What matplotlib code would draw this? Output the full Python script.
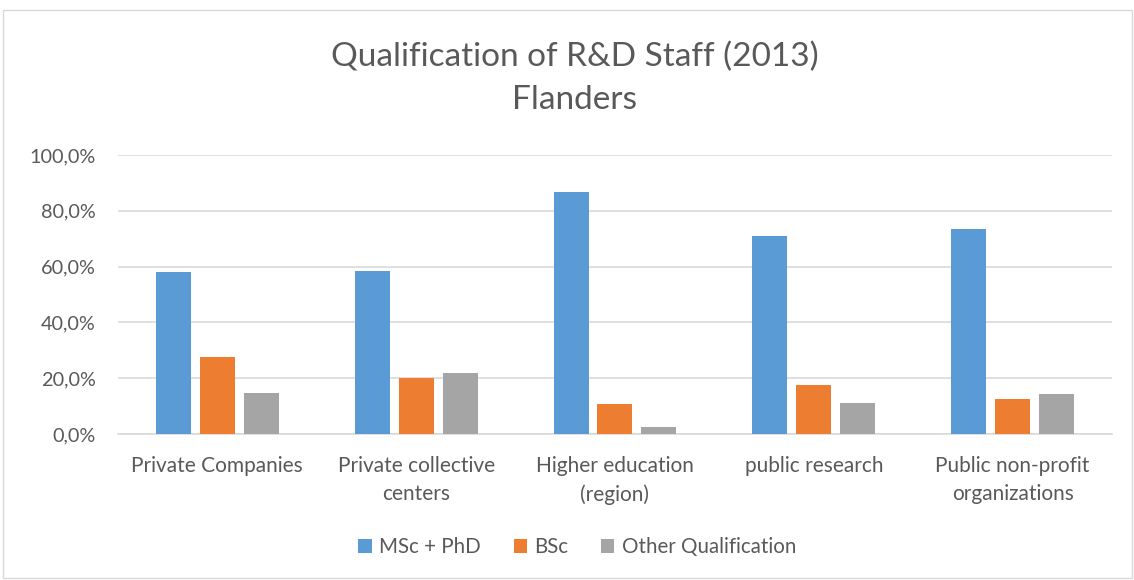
import numpy as np
import matplotlib.pyplot as plt
from matplotlib.patches import Rectangle
from matplotlib.ticker import FuncFormatter

plt.rcParams['font.family'] = ['Lato', 'DejaVu Sans']

categories = ['Private Companies', 'Private collective\ncenters', 'Higher education\n(region)',
              'public research', 'Public non-profit\norganizations']
msc_phd = [57.9, 58.3, 86.8, 70.9, 73.3]
bsc = [27.5, 20.2, 10.7, 17.5, 12.5]
other = [14.6, 21.7, 2.4, 11.2, 14.2]
series_names = ['MSc + PhD', 'BSc', 'Other Qualification']
colors = ['#5B9BD5', '#ED7D31', '#A5A5A5']

fig = plt.figure(figsize=(11.34, 5.8), dpi=100)
ax = fig.add_axes([0.104, 0.2517, 0.8766, 0.4811])

x = np.arange(len(categories))
width = 0.176
step = 0.221
for i, (vals, name, c) in enumerate(zip([msc_phd, bsc, other], series_names, colors)):
    ax.bar(x + (i - 1) * step, vals, width, color=c, label=name, zorder=3)

ax.set_xlim(-0.5, len(categories) - 0.5)
ax.set_ylim(0, 100)
ax.set_yticks(np.arange(0, 101, 20))
ax.yaxis.set_major_formatter(FuncFormatter(lambda v, p: f'{v:.1f}%'.replace('.', ',')))
ax.set_xticks(x)
ax.set_xticklabels(categories, linespacing=1.5)
ax.grid(axis='y', color='#D9D9D9', linewidth=1.2, zorder=0)
for s in ['top', 'right', 'left']:
    ax.spines[s].set_visible(False)
ax.spines['bottom'].set_color('#D9D9D9')
ax.spines['bottom'].set_linewidth(1.2)
ax.tick_params(axis='y', length=0, labelsize=14.3, colors='#595959', pad=16)
ax.tick_params(axis='x', length=0, labelsize=15, colors='#595959', pad=16)

fig.text(0.507, 1 - 57 / 580, 'Qualification of R&D Staff (2013)', ha='center', va='center',
         fontsize=24, color='#595959')
fig.text(0.507, 1 - 100 / 580, 'Flanders', ha='center', va='center',
         fontsize=24, color='#595959')

fig.legend(loc='center', bbox_to_anchor=(0.509, 1 - 547 / 580), ncol=3, frameon=False,
           fontsize=14.8, labelcolor='#595959', handlelength=0.65, handleheight=0.65,
           columnspacing=1.6, handletextpad=0.35)

fig.patches.append(Rectangle((0.003, 0.003), 0.995, 0.98, transform=fig.transFigure,
                             fill=False, edgecolor='#D9D9D9', linewidth=1))

fig.savefig('out.png', dpi=100, facecolor='white')
